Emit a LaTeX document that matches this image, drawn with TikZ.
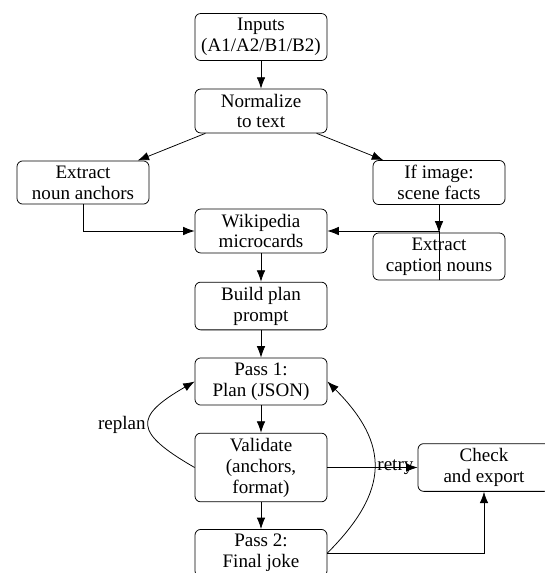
\documentclass[tikz,border=0pt]{standalone}
\usepackage{fontspec}
\setmainfont{Liberation Serif}
\usetikzlibrary{arrows.meta}
\begin{document}
\begin{tikzpicture}[x=0.525pt,y=0.525pt,
  box/.style={draw, rounded corners=3pt, align=center, minimum width=69.3pt,
    inner sep=2.5pt, font=\fontsize{10}{11}\selectfont},
  lbl/.style={font=\fontsize{10}{11}\selectfont, inner sep=1.5pt},
  flow/.style={-{Latex[length=6pt,width=4.5pt]}}]
\useasboundingbox (0,0) rectangle (545,-573);

% pipeline stages
\node[box] (inputs)   at (261,-37)    {Inputs\\(A1/A2/B1/B2)};
\node[box] (normalize) at (261,-111)  {Normalize\\to text};
\node[box] (anchors)  at (83,-182.5)  {Extract\\noun anchors};
\node[box] (ifimage)  at (439,-182.5) {If image:\\scene facts};
\node[box] (wiki)     at (261,-231)   {Wikipedia\\microcards};
\node[box] (caption)  at (439,-256.5) {Extract\\caption nouns};
\node[box] (build)    at (261,-306)   {Build plan\\prompt};
\node[box] (pass1)    at (261,-381.5) {Pass 1:\\Plan (JSON)};
\node[box] (validate) at (261,-467.5) {Validate\\(anchors,\\format)};
\node[box] (pass2)    at (261,-553)   {Pass 2:\\Final joke};
\node[box] (check)    at (484,-467.5) {Check\\and export};

% connectors
\draw[flow] (inputs) -- (normalize);
\draw[flow] (normalize) -- (anchors);
\draw[flow] (normalize) -- (ifimage);
\draw[flow] (anchors) |- (wiki);
\draw[flow] (ifimage) -- (caption);
\draw[flow] (caption.south) |- (wiki);
\draw[flow] (wiki) -- (build);
\draw[flow] (build) -- (pass1);
\draw[flow] (pass1) -- (validate);
\draw[flow] (validate) -- (pass2);
\draw[flow] (validate) -- (check);
\draw[flow] (pass2) -| (check);
\draw[flow] (validate.west) to[out=150,in=210,looseness=2.1]
  node[lbl,left] {replan} (pass1.west);
\draw[flow] (pass2.east) to[out=45,in=-45,looseness=1.32]
  node[lbl,right] {retry} (pass1.east);
\end{tikzpicture}
\end{document}
